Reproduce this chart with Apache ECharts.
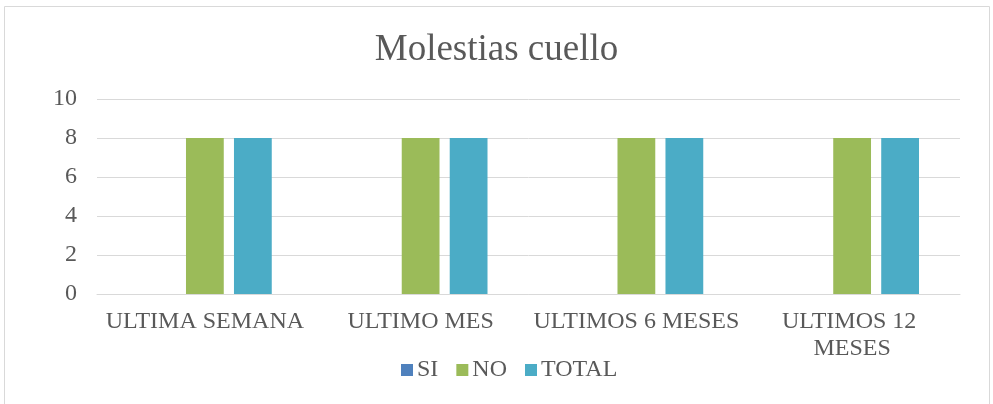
<!DOCTYPE html>
<html>
<head>
<meta charset="utf-8">
<script src="https://cdn.jsdelivr.net/npm/echarts@6/dist/echarts.min.js"></script>
<style>
  html, body { margin: 0; padding: 0; background: #fff; }
  #chart { width: 993px; height: 404px; }
</style>
</head>
<body>
<div id="chart"></div>
<script>
const categories = ["ULTIMA SEMANA", "ULTIMO MES", "ULTIMOS 6 MESES", "ULTIMOS 12 MESES"];
const siValues = [0, 0, 0, 0];
const noValues = [8, 8, 8, 8];
const totalValues = [8, 8, 8, 8];
const yTicks = [0, 2, 4, 6, 8, 10];

const font = "'Liberation Serif', 'Times New Roman', serif";
const textColor = "#595959";

const chart = echarts.init(document.getElementById("chart"));
chart.setOption({
  animation: false,
  textStyle: { fontFamily: font },
  graphic: [{
    type: "rect",
    shape: { x: 4.5, y: 6.5, width: 985, height: 400 },
    style: { fill: null, stroke: "#d9d9d9", lineWidth: 1 },
    silent: true
  }],
  title: {
    text: "Molestias cuello",
    left: "center",
    top: 27,
    textStyle: { fontFamily: font, fontSize: 37, fontWeight: "normal", color: textColor }
  },
  legend: {
    top: 353,
    left: 396,
    itemWidth: 12,
    itemHeight: 12,
    itemGap: 18,
    icon: "rect",
    textStyle: { fontFamily: font, fontSize: 24, color: textColor, padding: [0, 0, 0, -1] },
    data: ["SI", "NO", "TOTAL"]
  },
  grid: { left: 97, right: 33, top: 99, bottom: 110 },
  xAxis: {
    type: "category",
    data: categories,
    axisLine: { lineStyle: { color: "#d9d9d9", width: 1 } },
    axisTick: { show: false },
    axisLabel: {
      interval: 0,
      margin: 14,
      fontFamily: font,
      fontSize: 24,
      color: textColor,
      width: 214,
      overflow: "break",
      lineHeight: 27
    }
  },
  yAxis: {
    type: "value",
    min: yTicks[0],
    max: yTicks[yTicks.length - 1],
    interval: 2,
    axisLine: { show: false },
    axisTick: { show: false },
    splitLine: { lineStyle: { color: "#d9d9d9", width: 1 } },
    axisLabel: { margin: 20, fontFamily: font, fontSize: 24, color: textColor }
  },
  series: [
    { name: "SI", type: "bar", data: siValues, itemStyle: { color: "#4F81BD" }, barGap: "27%", barCategoryGap: "38%" },
    { name: "NO", type: "bar", data: noValues, itemStyle: { color: "#9BBB59" } },
    { name: "TOTAL", type: "bar", data: totalValues, itemStyle: { color: "#4BACC6" } }
  ]
});
</script>
</body>
</html>
